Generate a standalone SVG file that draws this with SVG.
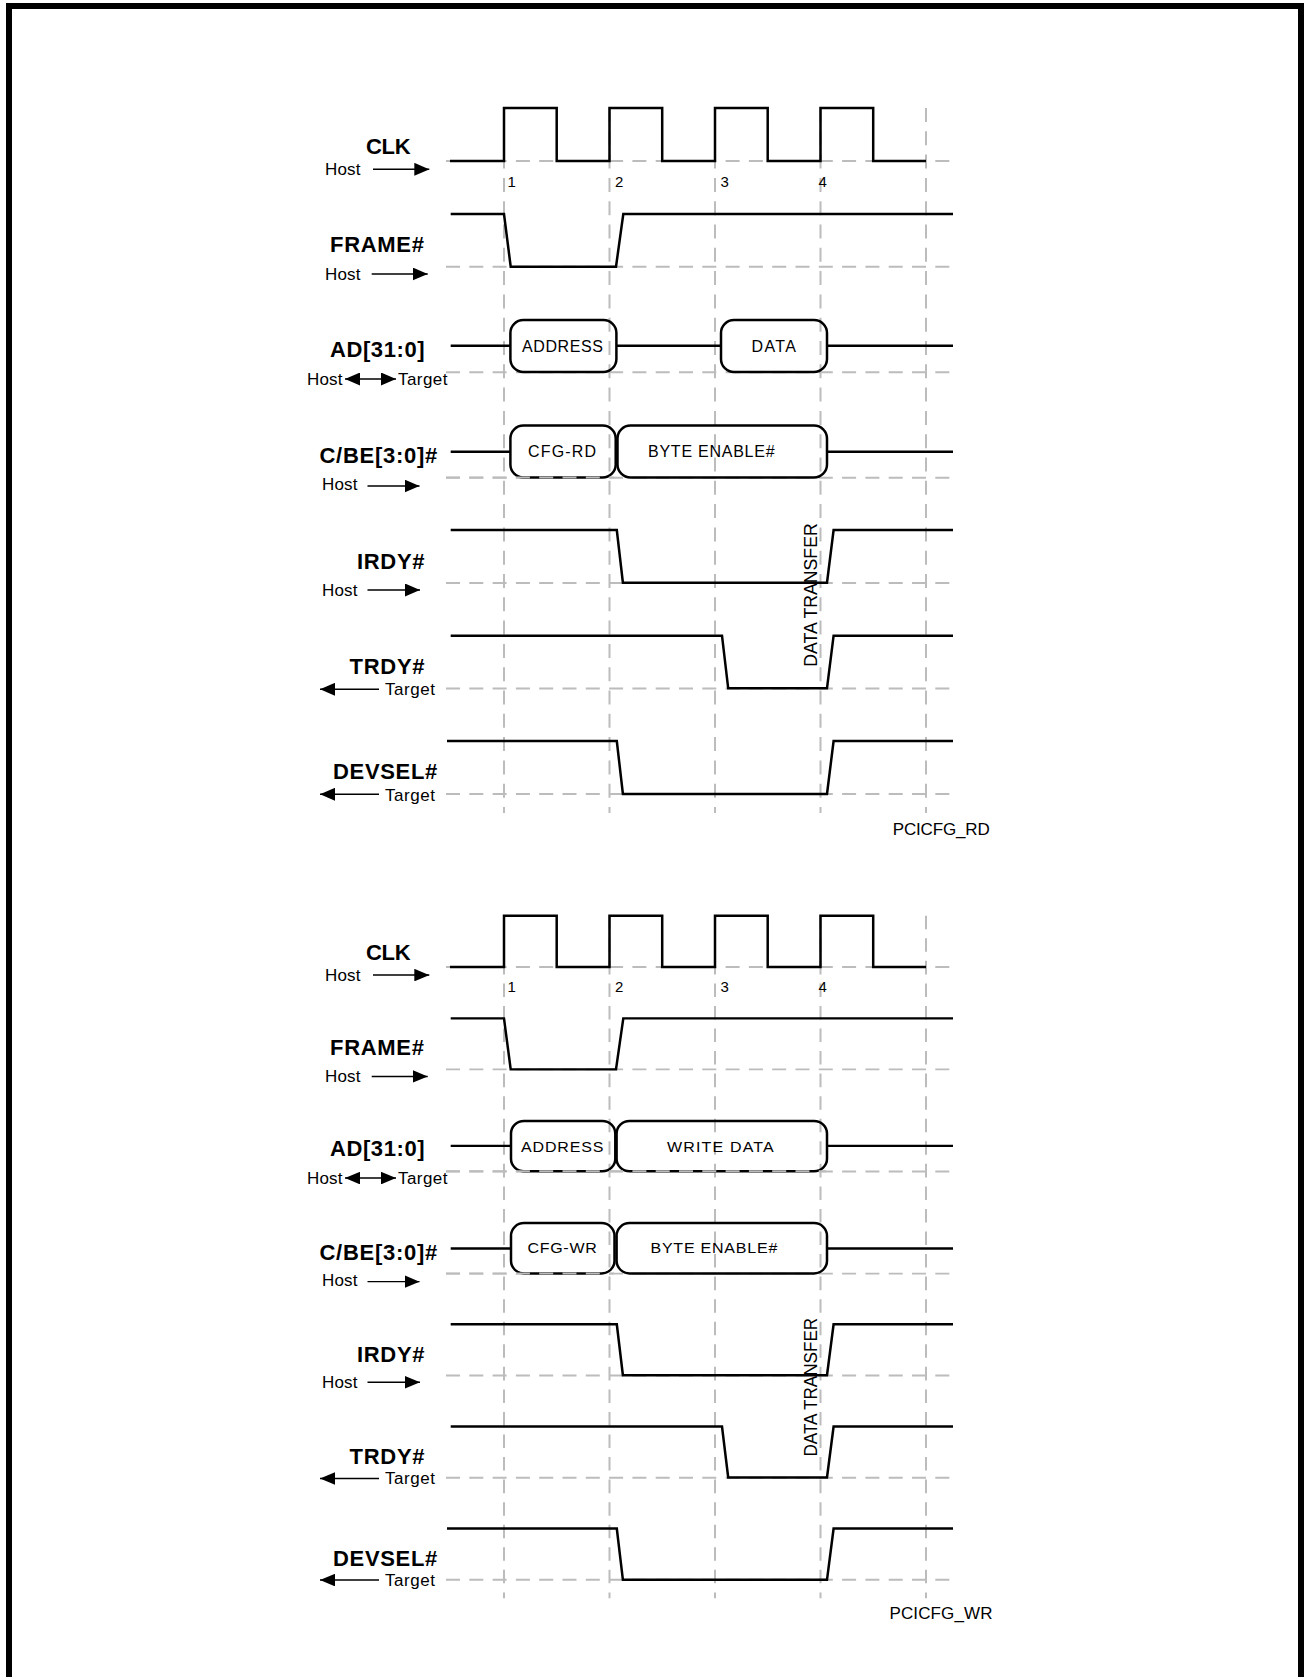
<svg xmlns="http://www.w3.org/2000/svg" width="1304" height="1677" viewBox="0 0 1304 1677">
<style>
text{font-family:"Liberation Sans",Arial,sans-serif;fill:#000}
.sig{fill:none;stroke:#000;stroke-width:2.5;stroke-linejoin:miter}
.box{fill:none;stroke:#000;stroke-width:2.5}
.grid{fill:none;stroke:#bcbcbc;stroke-width:2;stroke-dasharray:14 9.3}
.lbl{font-weight:bold;font-size:22px}
.dir{font-size:17px}
.bt{font-size:16px}
.num{font-size:15px}
.tag{font-size:17px}
.dt{font-size:19px}
.arr{fill:none;stroke:#000;stroke-width:1.5}
</style>
<defs>
<marker id="ah" viewBox="0 0 15 13" refX="15" refY="6.5" markerWidth="15" markerHeight="13" markerUnits="userSpaceOnUse" orient="auto-start-reverse">
<path d="M0,0 L15,6.5 L0,13 Z" fill="#000"/>
</marker>
</defs>
<rect id="frame" x="9" y="6" width="1292" height="1700" fill="#fff" stroke="#000" stroke-width="6"/>

<g id="diagram-rd">
<g id="grid-rd">
<path class="grid" d="M446,161H953M446,266.7H953M446,372.3H953M446,477.7H953M446,583H953M446,688.5H953M446,794H953"/>
<path class="grid" d="M504,108V813M609.5,108V813M715,108V813M820.5,108V813M926,108V813"/>
</g>
<g id="clk-rd">
<path class="sig" d="M450,161H504V108H556.7V161H609.5V108H662.2V161H715V108H767.7V161H820.5V108H873.2V161H926"/>
<text class="lbl" x="366" y="154" textLength="44.7" lengthAdjust="spacing">CLK</text>
<text class="dir" x="325" y="175" textLength="35.5">Host</text>
<text class="num" x="507.5" y="186.7">1</text>
<text class="num" x="615" y="186.7">2</text>
<text class="num" x="720.5" y="186.7">3</text>
<text class="num" x="818.5" y="186.7">4</text>
</g>
<g id="frame-rd">
<path class="sig" d="M450.7,214H504L510.7,266.7H616L623.3,214H953"/>
<text class="lbl" x="330" y="252.3" textLength="94">FRAME#</text>
<text class="dir" x="325" y="280" textLength="35.5">Host</text>
</g>
<g id="ad-rd">
<path class="sig" d="M450.7,345.7H510.4M616.4,345.7H721M827,345.7H953"/>
<rect class="box" x="510.4" y="320" width="106" height="52" rx="13"/>
<rect class="box" x="721" y="320" width="106" height="52" rx="13"/>
<text class="bt" x="522" y="351.7" textLength="81">ADDRESS</text>
<text class="bt" x="751.4" y="351.7" textLength="44.6">DATA</text>
<text class="lbl" x="330" y="356.7" textLength="94.6">AD[31:0]</text>
<text class="dir" x="307" y="385" textLength="35.5">Host</text>
<text class="dir" x="398" y="385" textLength="49.5">Target</text>
</g>
<g id="cbe-rd">
<path class="sig" d="M450.7,451.7H510.4M827,451.7H953"/>
<rect class="box" x="510.4" y="425.5" width="105.3" height="52" rx="13"/>
<rect class="box" x="617.5" y="425.5" width="209.5" height="52" rx="13"/>
<path class="grid" d="M446,477.6H614"/>
<text class="bt" x="528" y="456.7" textLength="68">CFG-RD</text>
<text class="bt" x="648" y="456.7" textLength="126.6">BYTE ENABLE#</text>
<text class="lbl" x="319.5" y="463.3" textLength="117.8">C/BE[3:0]#</text>
<text class="dir" x="322" y="490" textLength="35.5">Host</text>
</g>
<g id="irdy-rd">
<path class="sig" d="M450.7,530H616.8L622.9,582.7H827L833.6,530H953"/>
<text class="lbl" x="357" y="569.3" textLength="67.5">IRDY#</text>
<text class="dir" x="322" y="596" textLength="35.5">Host</text>
</g>
<g id="trdy-rd">
<path class="sig" d="M450.7,635.7H722L728.2,688.3H827L833.6,635.7H953"/>
<text class="lbl" x="349.6" y="674" textLength="75">TRDY#</text>
<text class="dir" x="385" y="695" textLength="50">Target</text>
</g>
<g id="devsel-rd">
<path class="sig" d="M447,741H616.8L622.9,794H827L833.6,741H953"/>
<text class="lbl" x="333" y="779.3" textLength="104.3">DEVSEL#</text>
<text class="dir" x="385" y="800.7" textLength="50">Target</text>
</g>
<text class="dt" x="817.3" y="666.7" transform="rotate(-90 817.3 666.7)" textLength="143.4" lengthAdjust="spacingAndGlyphs">DATA TRANSFER</text>
<text class="tag" x="892.7" y="835" textLength="97">PCICFG_RD</text>
<g id="connectors-rd">
<path class="arr" d="M373,169.3H429.3" marker-end="url(#ah)"/>
<path class="arr" d="M371.7,274H427.7" marker-end="url(#ah)"/>
<path class="arr" d="M345,379H396" marker-start="url(#ah)" marker-end="url(#ah)"/>
<path class="arr" d="M367.5,486H419.5" marker-end="url(#ah)"/>
<path class="arr" d="M367.5,590H420" marker-end="url(#ah)"/>
<path class="arr" d="M379,689.3H320" marker-end="url(#ah)"/>
<path class="arr" d="M379,794.3H320" marker-end="url(#ah)"/>
</g>
</g>

<g id="diagram-wr" transform="matrix(1 0 0 0.968 0 811.2)">
<g id="grid-wr">
<path class="grid" d="M446,161H953M446,266.7H953M446,372.3H953M446,477.7H953M446,583H953M446,688.5H953M446,794H953"/>
<path class="grid" d="M504,108V813M609.5,108V813M715,108V813M820.5,108V813M926,108V813"/>
</g>
<g id="clk-wr">
<path class="sig" d="M450,161H504V108H556.7V161H609.5V108H662.2V161H715V108H767.7V161H820.5V108H873.2V161H926"/>
<text class="lbl" x="366" y="154" textLength="44.7" lengthAdjust="spacing">CLK</text>
<text class="dir" x="325" y="175" textLength="35.5">Host</text>
<text class="num" x="507.5" y="186.7">1</text>
<text class="num" x="615" y="186.7">2</text>
<text class="num" x="720.5" y="186.7">3</text>
<text class="num" x="818.5" y="186.7">4</text>
</g>
<g id="frame-wr">
<path class="sig" d="M450.7,214H504L510.7,266.7H616L623.3,214H953"/>
<text class="lbl" x="330" y="252.3" textLength="94">FRAME#</text>
<text class="dir" x="325" y="280" textLength="35.5">Host</text>
</g>
<g id="ad-wr">
<path class="sig" d="M450.7,345.7H511M827,345.7H953"/>
<rect class="box" x="511" y="320" width="104.3" height="52" rx="13"/>
<rect class="box" x="616.6" y="320" width="210.4" height="52" rx="13"/>
<path class="grid" d="M446,372H826"/>
<text class="bt" x="521" y="351.7" textLength="82.5">ADDRESS</text>
<text class="bt" x="667" y="351.7" textLength="106.7">WRITE DATA</text>
<text class="lbl" x="330" y="356.7" textLength="94.6">AD[31:0]</text>
<text class="dir" x="307" y="385" textLength="35.5">Host</text>
<text class="dir" x="398" y="385" textLength="49.5">Target</text>
</g>
<g id="cbe-wr">
<path class="sig" d="M450.7,451.7H511M827,451.7H953"/>
<rect class="box" x="511" y="425.5" width="103.5" height="52" rx="13"/>
<rect class="box" x="616.6" y="425.5" width="210.4" height="52" rx="13"/>
<path class="grid" d="M446,477.6H614"/>
<text class="bt" x="527.4" y="456.7" textLength="69.4">CFG-WR</text>
<text class="bt" x="650.5" y="456.7" textLength="126.8">BYTE ENABLE#</text>
<text class="lbl" x="319.5" y="463.3" textLength="117.8">C/BE[3:0]#</text>
<text class="dir" x="322" y="490" textLength="35.5">Host</text>
</g>
<g id="irdy-wr">
<path class="sig" d="M450.7,530H616.8L622.9,582.7H827L833.6,530H953"/>
<text class="lbl" x="357" y="569.3" textLength="67.5">IRDY#</text>
<text class="dir" x="322" y="596" textLength="35.5">Host</text>
</g>
<g id="trdy-wr">
<path class="sig" d="M450.7,635.7H722L728.2,688.3H827L833.6,635.7H953"/>
<text class="lbl" x="349.6" y="674" textLength="75">TRDY#</text>
<text class="dir" x="385" y="695" textLength="50">Target</text>
</g>
<g id="devsel-wr">
<path class="sig" d="M447,741H616.8L622.9,794H827L833.6,741H953"/>
<text class="lbl" x="333" y="779.3" textLength="104.3">DEVSEL#</text>
<text class="dir" x="385" y="800.7" textLength="50">Target</text>
</g>
<text class="dt" x="817.5" y="666.7" transform="rotate(-90 817.5 666.7)" textLength="143.4" lengthAdjust="spacingAndGlyphs">DATA TRANSFER</text>
<text class="tag" x="889.5" y="835" textLength="103">PCICFG_WR</text>
<g id="connectors-wr">
<path class="arr" d="M373,169.3H429.3" marker-end="url(#ah)"/>
<path class="arr" d="M371.7,274H427.7" marker-end="url(#ah)"/>
<path class="arr" d="M345,379H396" marker-start="url(#ah)" marker-end="url(#ah)"/>
<path class="arr" d="M367.5,486H419.5" marker-end="url(#ah)"/>
<path class="arr" d="M367.5,590H420" marker-end="url(#ah)"/>
<path class="arr" d="M379,689.3H320" marker-end="url(#ah)"/>
<path class="arr" d="M379,794.3H320" marker-end="url(#ah)"/>
</g>
</g>
</svg>
